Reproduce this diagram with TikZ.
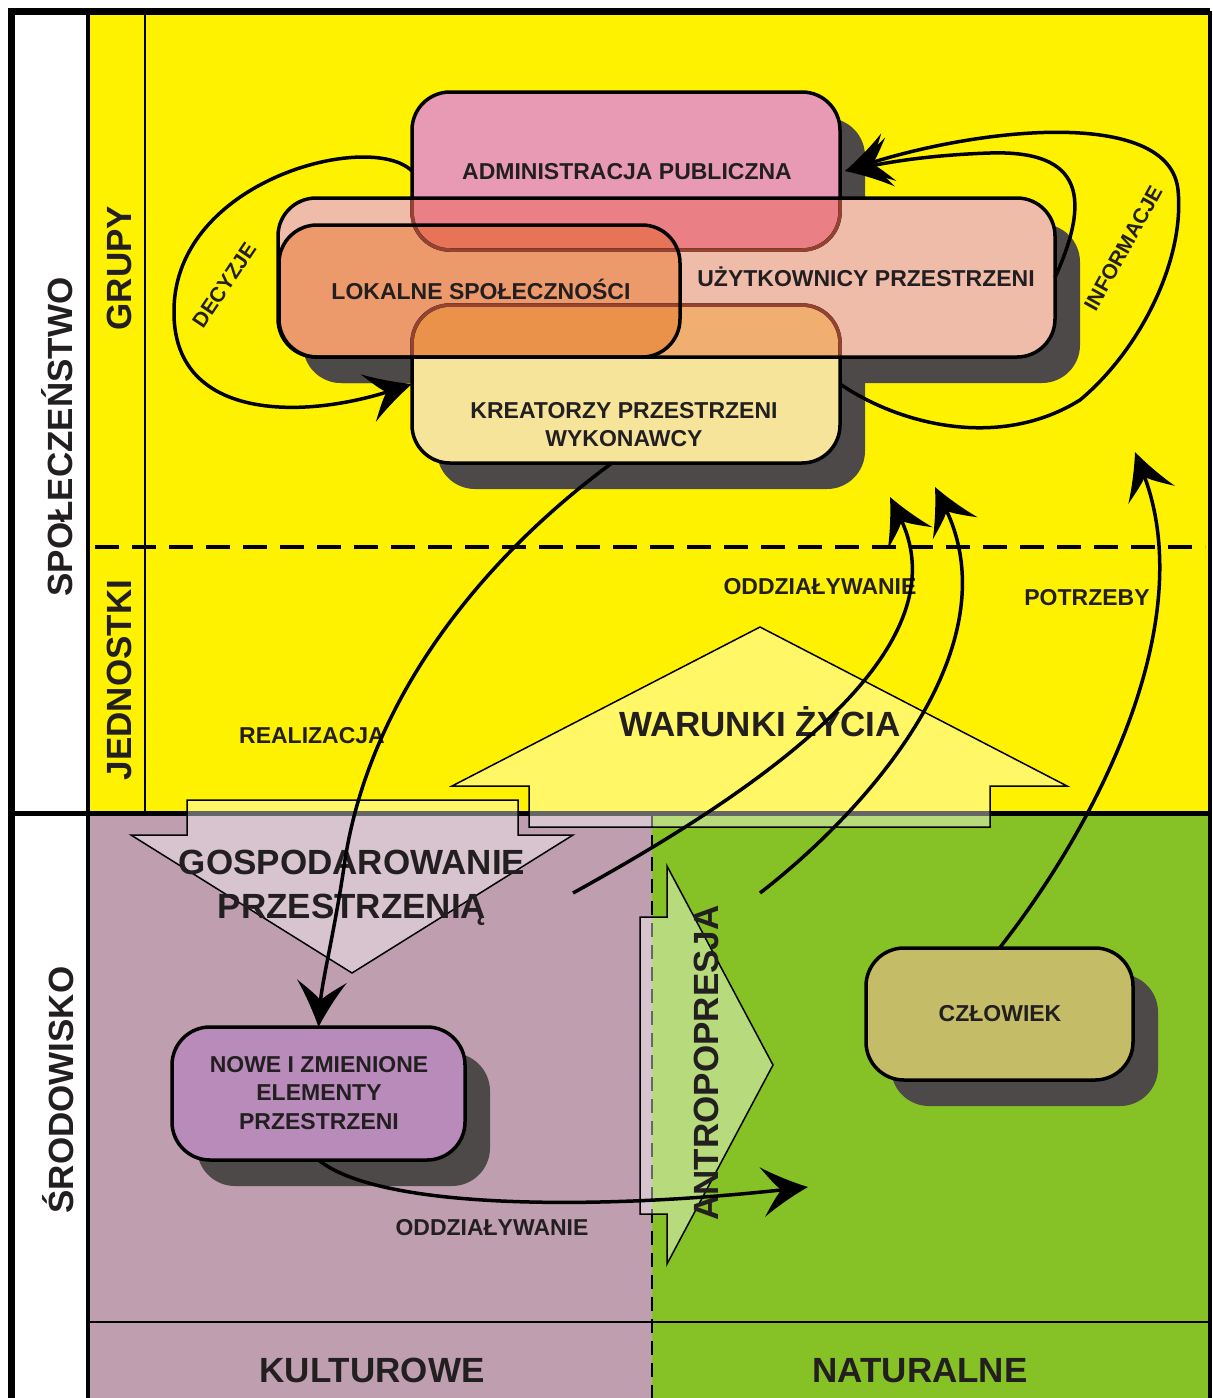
\documentclass[tikz,border=0pt]{standalone}
\usepackage{fontspec}
\setmainfont{Liberation Sans}
\usetikzlibrary{arrows.meta}

\definecolor{ylw}{RGB}{255,242,0}
\definecolor{plum}{RGB}{191,158,175}
\definecolor{grass}{RGB}{134,194,38}
\definecolor{shadowgray}{RGB}{77,73,73}
\definecolor{ink}{RGB}{35,31,32}
\definecolor{adminpink}{RGB}{232,154,181}
\definecolor{userpeach}{RGB}{240,188,170}
\definecolor{localorange}{RGB}{236,153,107}
\definecolor{creatorcream}{RGB}{245,228,154}
\definecolor{adminuser}{RGB}{234,128,134}
\definecolor{adminlocal}{RGB}{231,116,88}
\definecolor{creatoruser}{RGB}{240,174,112}
\definecolor{creatorlocal}{RGB}{234,145,74}
\definecolor{seenthrough}{RGB}{150,66,48}
\definecolor{newviolet}{RGB}{185,139,187}
\definecolor{manolive}{RGB}{196,188,102}

% swept dart arrow tip with concave sides
\pgfdeclarearrow{
  name = Dart,
  parameters = {\the\pgfarrowlength,\the\pgfarrowwidth},
  setup code = {
    \pgfarrowssettipend{0pt}
    \pgfarrowssetlineend{-0.5\pgfarrowlength}
    \pgfarrowssetbackend{-\pgfarrowlength}
    \pgfarrowssavethe\pgfarrowlength
    \pgfarrowssavethe\pgfarrowwidth
  },
  drawing code = {
    \pgfpathmoveto{\pgfpointorigin}
    \pgfpathcurveto{\pgfpoint{-0.28\pgfarrowlength}{0.11\pgfarrowwidth}}
                   {\pgfpoint{-0.68\pgfarrowlength}{0.30\pgfarrowwidth}}
                   {\pgfpoint{-\pgfarrowlength}{0.5\pgfarrowwidth}}
    \pgfpathcurveto{\pgfpoint{-0.82\pgfarrowlength}{0.26\pgfarrowwidth}}
                   {\pgfpoint{-0.70\pgfarrowlength}{0.10\pgfarrowwidth}}
                   {\pgfpoint{-0.58\pgfarrowlength}{0pt}}
    \pgfpathcurveto{\pgfpoint{-0.70\pgfarrowlength}{-0.10\pgfarrowwidth}}
                   {\pgfpoint{-0.82\pgfarrowlength}{-0.26\pgfarrowwidth}}
                   {\pgfpoint{-\pgfarrowlength}{-0.5\pgfarrowwidth}}
    \pgfpathcurveto{\pgfpoint{-0.68\pgfarrowlength}{-0.30\pgfarrowwidth}}
                   {\pgfpoint{-0.28\pgfarrowlength}{-0.11\pgfarrowwidth}}
                   {\pgfpointorigin}
    \pgfpathclose
    \pgfusepathqfill
  },
  defaults = {length=46pt, width=50pt}
}

\begin{document}
\begin{tikzpicture}[x=1pt, y=-1pt,
  boxnode/.style={shape=rectangle, inner sep=0pt, outer sep=0pt},
  rb/.style={rounded corners=38pt},
  boxrim/.style={rb, line width=3.5pt},
  blockarrow/.style={fill=white, fill opacity=0.4, draw=black, line width=1.5pt, line join=miter},
  flow/.style={line width=3.5pt, -{Dart[length=46pt,width=50pt]}},
  txtbig/.style={font=\fontsize{35}{44}\selectfont\bfseries, text=ink, inner sep=0pt, text height=25pt, text depth=0pt},
  txtmid/.style={font=\fontsize{23}{29}\selectfont\bfseries, text=ink, inner sep=0pt, text height=16.5pt, text depth=0pt},
  txtsml/.style={font=\fontsize{21}{26}\selectfont\bfseries, text=ink, inner sep=0pt, text height=15pt, text depth=0pt},
  midlines/.style={font=\fontsize{23}{28.5}\selectfont\bfseries, text=ink, inner sep=0pt, align=center},
  biglines/.style={font=\fontsize{35}{44}\selectfont\bfseries, text=ink, inner sep=0pt, align=center},
]
\useasboundingbox (0,0) rectangle (1213,1398);
\fill[white] (0,0) rectangle (1213,1398);

% background zones
\fill[ylw] (88,11) rectangle (1210,813);
\fill[plum] (88,813) rectangle (652,1398);
\fill[grass] (652,813) rectangle (1210,1398);

% thin dividers
\draw[line width=2.5pt] (145,11) -- (145,813);
\draw[line width=4pt, dash pattern=on 24pt off 13pt] (95,547) -- (1205,547);
\draw[line width=2pt] (88,1322) -- (1210,1322);
\draw[line width=2pt, dash pattern=on 14pt off 8pt] (652,813) -- (652,1398);

% frame
\draw[line width=7pt] (11,1398) -- (11,11) -- (1210,11);
\draw[line width=4pt] (1210,11) -- (1210,1398);
\draw[line width=4pt] (88,11) -- (88,1398);
\draw[line width=5pt] (11,813) -- (1210,813);

% block arrows
\draw[blockarrow] (760,627) -- (1067,786) -- (990,786) -- (990,827) -- (529,827) -- (529,786) -- (452,786) -- cycle;
\draw[blockarrow] (187,800) -- (518,800) -- (518,835) -- (573,835) -- (352,973) -- (131,835) -- (187,835) -- cycle;
\draw[blockarrow] (640,917) -- (667,917) -- (667,866) -- (773,1065) -- (667,1264) -- (667,1214) -- (640,1214) -- cycle;

% box frames (named)
\node[boxnode, minimum width=428pt, minimum height=158pt] (adm) at (626,171) {};
\node[boxnode, minimum width=777pt, minimum height=159pt] (uzy) at (666.5,277.5) {};
\node[boxnode, minimum width=401pt, minimum height=132pt] (lok) at (479.5,291) {};
\node[boxnode, minimum width=428pt, minimum height=158pt] (kre) at (626,384) {};
\node[boxnode, minimum width=293pt, minimum height=133pt] (nowe) at (318.5,1093.5) {};
\node[boxnode, minimum width=267pt, minimum height=132pt] (czl) at (999.5,1014) {};

% drop shadows
\foreach \b in {adm,uzy,lok,kre,nowe,czl}
  \fill[shadowgray, rb] ([xshift=25pt,yshift=-26pt]\b.south west) rectangle ([xshift=25pt,yshift=-26pt]\b.north east);

% overlapping group fills
\fill[adminpink, rb] (adm.south west) rectangle (adm.north east);
\fill[creatorcream, rb] (kre.south west) rectangle (kre.north east);
\fill[userpeach, rb] (uzy.south west) rectangle (uzy.north east);
\begin{scope}
  \clip[rb] (adm.south west) rectangle (adm.north east);
  \fill[adminuser, rb] (uzy.south west) rectangle (uzy.north east);
\end{scope}
\begin{scope}
  \clip[rb] (kre.south west) rectangle (kre.north east);
  \fill[creatoruser, rb] (uzy.south west) rectangle (uzy.north east);
\end{scope}
\fill[localorange, rb] (lok.south west) rectangle (lok.north east);
\begin{scope}
  \clip[rb] (adm.south west) rectangle (adm.north east);
  \fill[adminlocal, rb] (lok.south west) rectangle (lok.north east);
\end{scope}
\begin{scope}
  \clip[rb] (kre.south west) rectangle (kre.north east);
  \fill[creatorlocal, rb] (lok.south west) rectangle (lok.north east);
\end{scope}

% outlines
\draw[boxrim] (adm.south west) rectangle (adm.north east);
\draw[boxrim] (kre.south west) rectangle (kre.north east);
\begin{scope}
  \clip[rb] (uzy.south west) rectangle (uzy.north east);
  \draw[boxrim, draw=seenthrough] (adm.south west) rectangle (adm.north east);
  \draw[boxrim, draw=seenthrough] (kre.south west) rectangle (kre.north east);
\end{scope}
\draw[boxrim] (uzy.south west) rectangle (uzy.north east);
\draw[boxrim] (lok.south west) rectangle (lok.north east);

\draw[boxrim, fill=newviolet] (nowe.south west) rectangle (nowe.north east);
\draw[boxrim, fill=manolive] (czl.south west) rectangle (czl.north east);

% box texts
\node[txtmid] (tadm) at (627,171) {ADMINISTRACJA PUBLICZNA};
\node[txtmid] (tuzy) at (866,278) {UŻYTKOWNICY PRZESTRZENI};
\node[txtmid] (tlok) at (481,291) {LOKALNE SPOŁECZNOŚCI};
\node[midlines] (tkre) at (624,424.5) {KREATORZY PRZESTRZENI\\WYKONAWCY};
\node[midlines] (tnowe) at (319,1093) {NOWE I ZMIENIONE\\ELEMENTY\\PRZESTRZENI};
\node[txtmid] (tczl) at (1000,1013) {CZŁOWIEK};

% zone labels
\node[txtbig, rotate=90] (spo) at (60,437) {SPOŁECZEŃSTWO};
\node[txtbig, rotate=90] (sro) at (61,1090) {ŚRODOWISKO};
\node[txtbig, rotate=90] (gru) at (119,268) {GRUPY};
\node[txtbig, rotate=90] (jed) at (119,680) {JEDNOSTKI};
\node[txtbig] (kul) at (372,1370) {KULTUROWE};
\node[txtbig] (nat) at (920,1370) {NATURALNE};

% block arrow texts
\node[txtbig] (war) at (760,724) {WARUNKI ŻYCIA};
\node[biglines] (gos) at (352,888) {GOSPODAROWANIE\\PRZESTRZENIĄ};
\node[txtbig, rotate=90] (ant) at (706,1063) {ANTROPOPRESJA};

% flow labels
\node[txtmid] (lrea) at (312,735) {REALIZACJA};
\node[txtmid] (lodz1) at (820,586) {ODDZIAŁYWANIE};
\node[txtmid] (lpot) at (1087,597) {POTRZEBY};
\node[txtmid] (lodz2) at (492,1227) {ODDZIAŁYWANIE};
\node[txtsml, rotate=56] (ldec) at (224,285) {DECYZJE};
\node[txtsml, rotate=61] (linf) at (1123,248) {INFORMACJE};

% free ends of flows
\coordinate (a1s) at (573,893);
\coordinate (a1e) at (890,497);
\coordinate (a2s) at (760,893);
\coordinate (a2e) at (935,487);
\coordinate (pe) at (1135,452);
\coordinate (ode) at (808,1187);

% flows
\draw[flow] (adm.west) .. controls (370,130) and (175,180) .. (174,310)
            .. controls (172,420) and (300,420) .. (kre.west);
\draw[flow] (kre.east) .. controls (900,425) and (1000,450) .. (1080,400)
            .. controls (1140,350) and (1185,260) .. (1178,190)
            .. controls (1170,110) and (990,125) .. ([xshift=5pt]adm.east);
\draw[flow] (uzy.east) .. controls (1090,200) and (1085,150) .. (990,153)
            .. controls (930,155) and (890,162) .. ([xshift=5pt]adm.east);
\draw[flow] ([xshift=-14pt]kre.south) .. controls (480,560) and (370,700) .. (345,860)
            .. controls (335,930) and (322,980) .. (nowe.north);
\draw[flow] (a1s) .. controls (760,790) and (965,650) .. (a1e);
\draw[flow] (a2s) .. controls (880,800) and (1010,640) .. (a2e);
\draw[flow] (czl.north) .. controls (1100,820) and (1200,620) .. (pe);
\draw[flow] (nowe.south) .. controls (380,1210) and (600,1210) .. (ode);
\end{tikzpicture}
\end{document}
